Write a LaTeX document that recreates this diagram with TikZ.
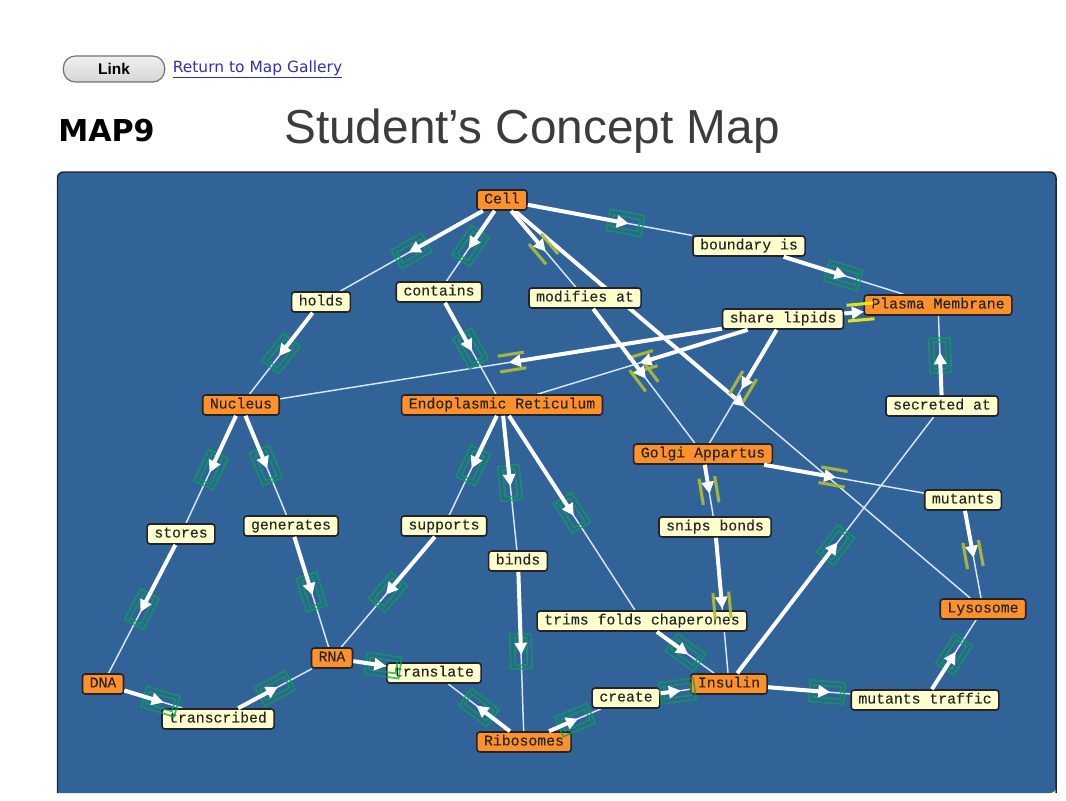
\documentclass[tikz,border=0pt]{standalone}
\usepackage{fontspec}
\setmainfont{Liberation Sans}
\setmonofont[FakeBold=0.25]{Liberation Mono}
\newfontfamily\verafont{DejaVu Sans}
\usetikzlibrary{arrows.meta}
\definecolor{panelblue}{RGB}{49,99,153}
\definecolor{conceptorange}{RGB}{255,145,45}
\definecolor{phrasecream}{RGB}{255,255,205}
\definecolor{frameblack}{RGB}{35,35,40}
\definecolor{thinlink}{RGB}{215,230,245}
\definecolor{boxgreen}{RGB}{10,160,85}
\definecolor{gateolive}{RGB}{175,190,50}
\definecolor{gatebright}{RGB}{245,240,10}
\definecolor{linkblue}{RGB}{50,50,170}
\definecolor{titlegrey}{RGB}{60,60,60}
\pgfdeclarelayer{fond}
\pgfdeclarelayer{liens}
\pgfdeclarelayer{fleches}
\pgfsetlayers{fond,liens,main,fleches}
\newcommand{\maplink}[2]{
\path (#1.center) -- coordinate[pos=.5] (mid) (#2.center);
\begin{pgfonlayer}{liens}
\draw[faint] (mid) -- (#2);
\end{pgfonlayer}
\begin{pgfonlayer}{fleches}
\draw[strong] (#1) -- (mid);
\end{pgfonlayer}
}
\begin{document}
\begin{tikzpicture}[x=.75pt,y=-.75pt]
\tikzstyle{word}=[draw=frameblack, line width=1.2pt, rounded corners=2.2pt, inner xsep=5.4pt, inner ysep=0pt, minimum height=15pt, text height=7.4pt, text depth=2.2pt, font=\ttfamily\fontsize{11.1}{13}\selectfont, text=black!85]
\tikzstyle{concept}=[word, fill=conceptorange]
\tikzstyle{phrase}=[word, fill=phrasecream]
\tikzstyle{strong}=[white, line width=3pt, -{Triangle[length=9pt,width=9pt]}, shorten >=-2.5pt]
\tikzstyle{faint}=[thinlink, line width=1.1pt]
\tikzstyle{boxouter}=[sloped, draw=boxgreen, draw opacity=.75, line width=1.3pt, minimum width=26pt, minimum height=16pt, inner sep=0pt]
\tikzstyle{boxinner}=[sloped, draw=boxgreen, draw opacity=.75, line width=1.3pt, minimum width=20.5pt, minimum height=9pt, inner sep=0pt]
\tikzstyle{gate}=[sloped, minimum width=19.5pt, minimum height=11.5pt, inner sep=0pt]
\tikzstyle{gatebar}=[line width=2.3pt, draw opacity=.9]
\useasboundingbox (0,0) rectangle (1066,800);
\begin{pgfonlayer}{fond}
\fill[panelblue, rounded corners=4.5pt] (57.5,793) -- (57.5,172) -- (1056,172) -- (1056,793) [sharp corners] -- cycle;
\draw[frameblack, line width=1.1pt, rounded corners=4.5pt] (57.5,793) -- (57.5,172) -- (1056,172) -- (1056,793);
\end{pgfonlayer}
\node[draw=black!55, line width=.9pt, rounded corners=9pt, top color=black!6, bottom color=black!16, minimum width=76pt, minimum height=19.5pt, inner sep=0pt, font=\bfseries\fontsize{11.6}{13}\selectfont] (button) at (114,69) {Link};
\node[font=\verafont\fontsize{11.6}{13}\selectfont, text=linkblue, inner sep=0pt] (gallery) at (257.5,69.5) {\underline{Return to Map Gallery}};
\node[font=\verafont\bfseries\fontsize{22.6}{24}\selectfont, text=black, inner sep=0pt] (mapname) at (106.5,131) {MAP9};
\node[font=\fontsize{35.8}{40}\selectfont, text=titlegrey, inner sep=0pt] (title) at (532,131) {Student’s Concept Map};
\node[concept] (cell) at (502,200) {Cell};
\node[phrase] (boundary) at (749,246) {boundary is};
\node[concept] (plasma) at (938,305) {Plasma Membrane};
\node[phrase] (holds) at (321,302) {holds};
\node[phrase] (contains) at (439,292) {contains};
\node[phrase] (modifies) at (585,298) {modifies at};
\node[phrase] (share) at (783,319) {share lipids};
\node[concept] (nucleus) at (241,405) {Nucleus};
\node[concept] (er) at (502,405) {Endoplasmic Reticulum};
\node[phrase] (secreted) at (942,406) {secreted at};
\node[concept] (golgi) at (703,454) {Golgi Appartus};
\node[phrase] (mutants) at (963,500) {mutants};
\node[phrase] (stores) at (181,534) {stores};
\node[phrase] (generates) at (291,526) {generates};
\node[phrase] (supports) at (444,526) {supports};
\node[phrase] (snips) at (715,527) {snips bonds};
\node[phrase] (binds) at (518,561) {binds};
\node[concept] (lysosome) at (983,609) {Lysosome};
\node[phrase] (trims) at (642,621) {trims folds chaperones};
\node[concept] (rna) at (332,658) {RNA};
\node[phrase] (translate) at (434,673) {translate};
\node[concept] (dna) at (103,684) {DNA};
\node[concept] (insulin) at (729,684) {Insulin};
\node[phrase] (transcribed) at (218,719) {transcribed};
\node[phrase] (create) at (626,698) {create};
\node[phrase] (traffic) at (925,700) {mutants traffic};
\node[concept] (ribosomes) at (524,742) {Ribosomes};
\path (cell.center) -- coordinate[pos=.5] (cellmid) (lysosome.center);
\begin{pgfonlayer}{liens}
\draw[strong] (cell) -- (cellmid);
\draw[faint] (cellmid) -- (lysosome);
\end{pgfonlayer}
\foreach \src/\dst in {cell/holds, holds/nucleus, cell/contains, contains/er, cell/boundary, boundary/plasma, secreted/plasma, insulin/secreted, nucleus/stores, stores/dna, nucleus/generates, generates/rna, er/supports, supports/rna, er/binds, binds/ribosomes, er/trims, trims/insulin, dna/transcribed, transcribed/rna, rna/translate, ribosomes/translate, ribosomes/create, create/insulin, insulin/traffic, traffic/lysosome}
{
\maplink{\src}{\dst}
\path (\src.center) -- node[boxouter] (outer-\src-\dst) {} node[boxinner] (inner-\src-\dst) {} (\dst.center);
}
\foreach \src/\dst/\tint in {cell/modifies/gateolive, modifies/golgi/gateolive, share/nucleus/gateolive, share/er/gateolive, share/golgi/gateolive, golgi/mutants/gateolive, golgi/snips/gateolive, snips/insulin/gateolive, mutants/lysosome/gateolive, share/plasma/gatebright}
{
\maplink{\src}{\dst}
\path (\src.center) -- node[gate] (gate-\src-\dst) {} (\dst.center);
\draw[gatebar, draw=\tint] (gate-\src-\dst.north west) -- (gate-\src-\dst.north east) (gate-\src-\dst.south west) -- (gate-\src-\dst.south east);
}
\end{tikzpicture}
\end{document}
